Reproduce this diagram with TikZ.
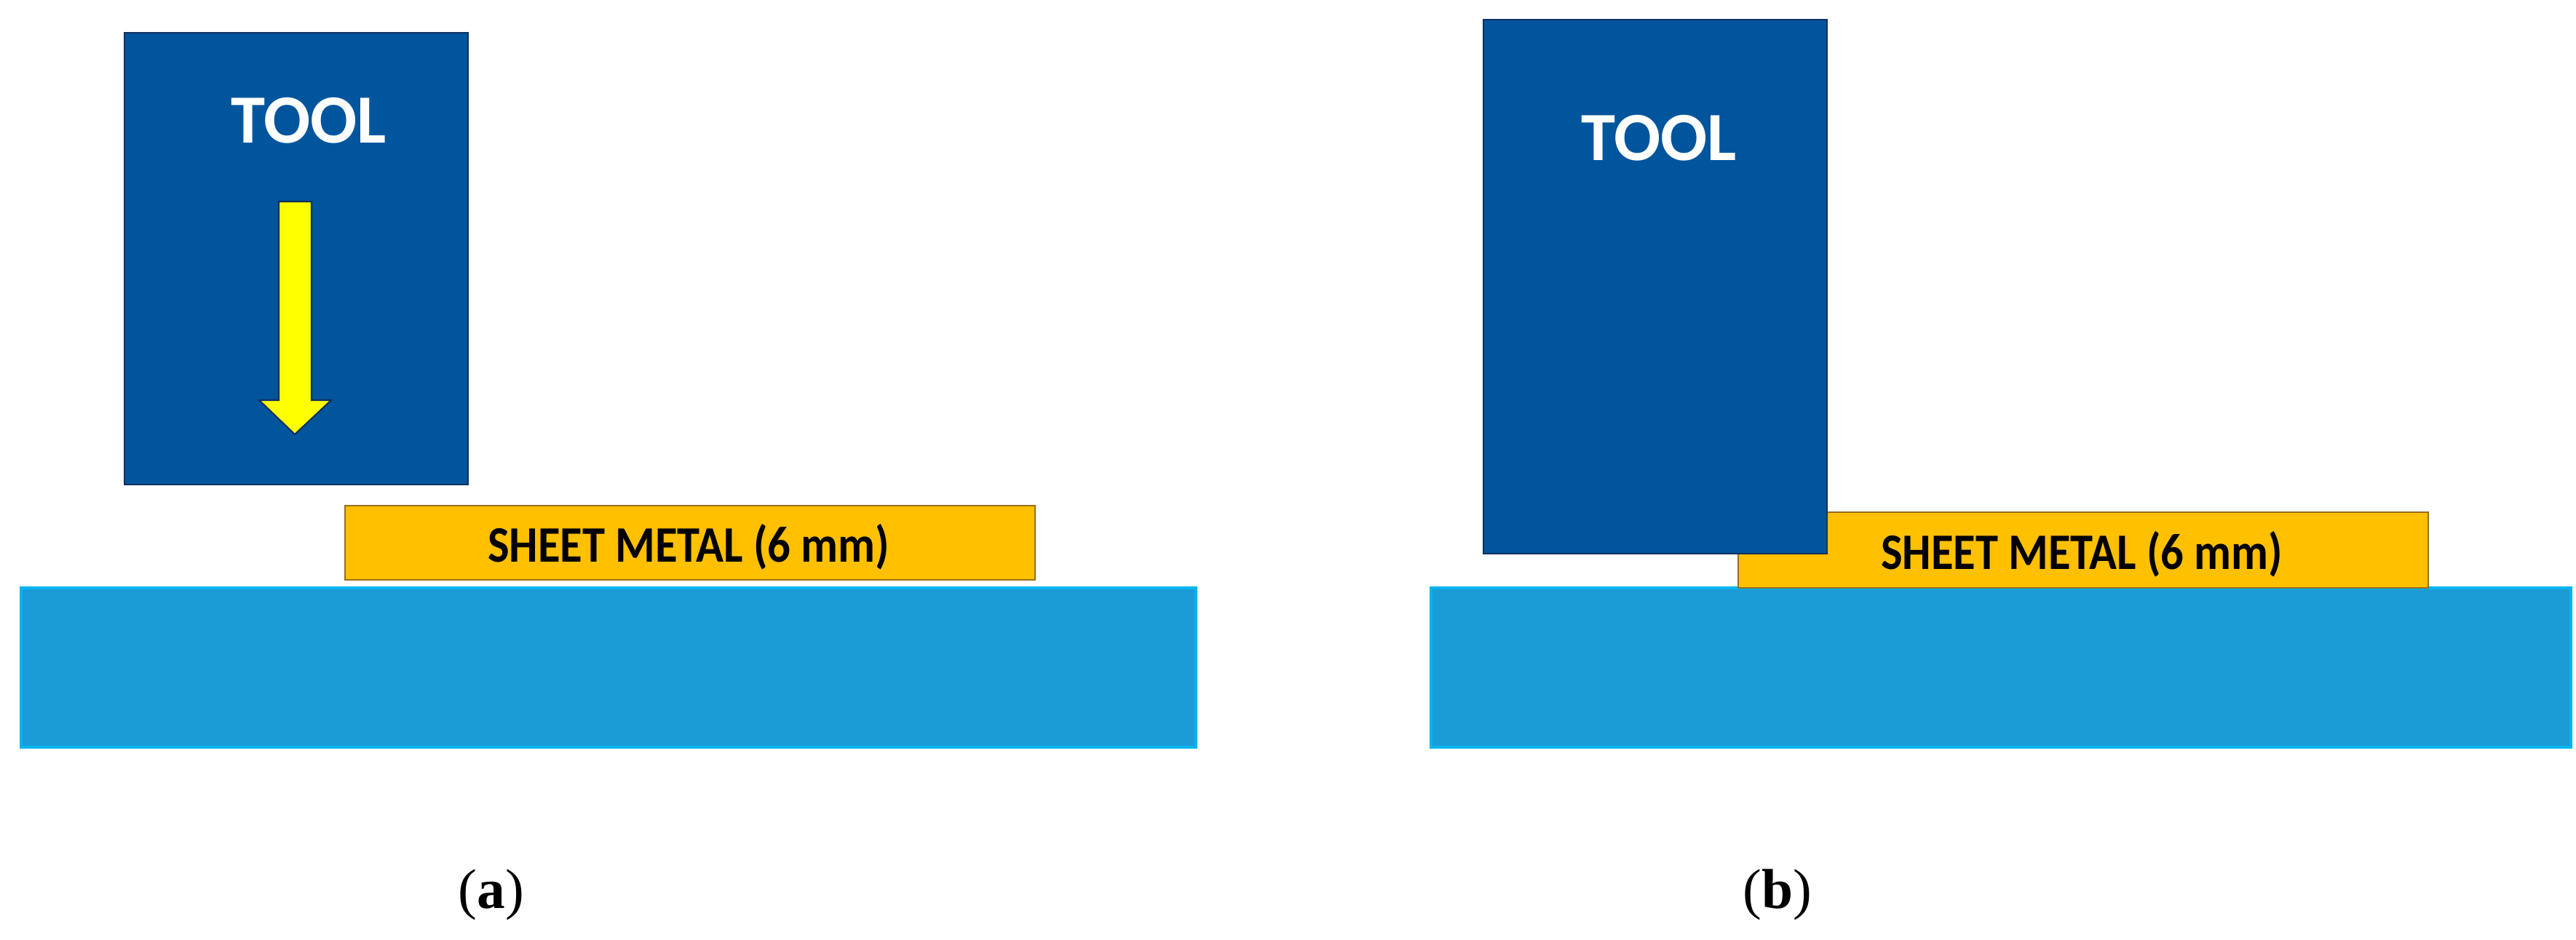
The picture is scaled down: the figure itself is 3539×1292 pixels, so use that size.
\documentclass[tikz,border=0pt]{standalone}
\usepackage{fontspec}
\usepackage{xcolor}
\usepackage{graphicx}
\usepackage{tikz}
\setmainfont{Liberation Serif}
\newfontfamily\calib{Carlito}
\usetikzlibrary{positioning,calc}

\definecolor{toolblue}{RGB}{1,85,157}
\definecolor{tooledge}{RGB}{18,48,96}
\definecolor{sheetfill}{RGB}{255,192,0}
\definecolor{sheetedge}{RGB}{150,110,30}
\definecolor{basefill}{RGB}{27,156,215}
\definecolor{baseedge}{RGB}{0,180,240}
\definecolor{arrowfill}{RGB}{255,255,0}

\newcommand{\narrow}[1]{\scalebox{0.89}[1]{#1}}

\begin{document}
\begin{tikzpicture}[x=0.01cm, y=-0.01cm,
    toolbox/.style={fill=toolblue, draw=tooledge, line width=0.8pt},
    sheetbox/.style={fill=sheetfill, draw=sheetedge, line width=0.8pt},
    basebox/.style={fill=basefill, draw=baseedge, line width=1.1pt},
    toolname/.style={text=white, font=\calib\bfseries\fontsize{27}{32}\selectfont},
    sheetname/.style={text=black, font=\calib\bfseries\fontsize{20}{24}\selectfont},
    caption/.style={font=\fontsize{22}{26}\selectfont}]
    \useasboundingbox (0,0) rectangle (3539,1292);

    % (a) Tool above the sheet
    \draw [basebox] (29,808) rectangle (1643,1027);
    \draw [sheetbox] (474,695) rectangle (1422,797);
    \node [sheetname] (sheetA) at (946,752) {\narrow{SHEET METAL (6 mm)}};
    \draw [toolbox] (171,45) rectangle (643,666);
    \node [toolname] (toolA) at (424,166) {TOOL};
    \draw [fill=arrowfill, draw=tooledge, line width=0.6pt]
        (383,277) -- (428,277) -- (428,550) -- (455,550) -- (405,597)
        -- (356,550) -- (383,550) -- cycle; % Arrow down
    \node [caption] (capA) at (675,1230) {(\textbf{a})};

    % (b) Tool pressed on the sheet
    \draw [basebox] (1966,808) rectangle (3532,1027);
    \draw [sheetbox] (2388,704) rectangle (3336,808);
    \node [sheetname] (sheetB) at (2860,762) {\narrow{SHEET METAL (6 mm)}};
    \draw [toolbox] (2038,27) rectangle (2510,761);
    \node [toolname] (toolB) at (2279,190) {TOOL};
    \node [caption] (capB) at (2442,1230) {(\textbf{b})};
\end{tikzpicture}
\end{document}
